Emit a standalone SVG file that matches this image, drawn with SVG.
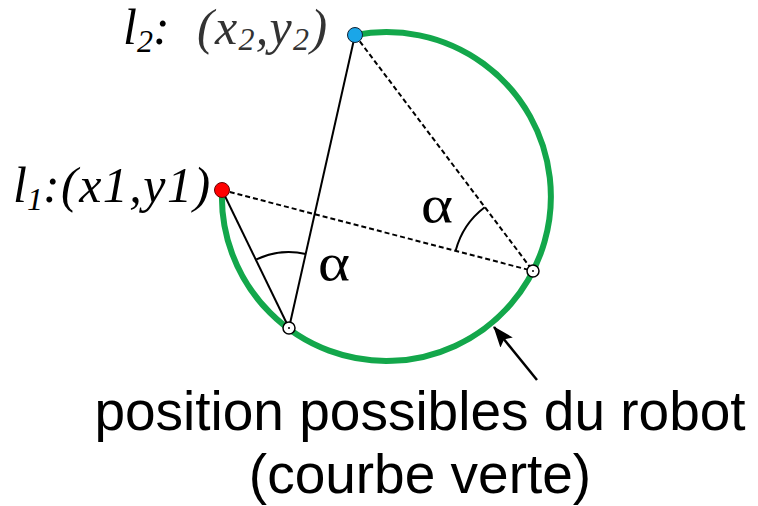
<svg xmlns="http://www.w3.org/2000/svg" width="758" height="506" viewBox="0 0 758 506">
<defs>
<style>
.lab{font-family:"Liberation Serif","Times New Roman",serif;font-style:italic;font-size:50px;fill:#000}
.sub{font-size:32px}
.alpha{font-family:"Liberation Serif","Times New Roman",serif;font-size:52px;fill:#000}
.cap{font-family:"Liberation Sans",Arial,sans-serif;font-size:55px;fill:#000;text-anchor:middle}
.solid{stroke:#000;stroke-width:2;fill:none}
.dash{stroke:#000;stroke-width:2;fill:none;stroke-dasharray:5 3}
.ang{stroke:#000;stroke-width:2;fill:none}
.pos{fill:#fff;stroke:#000;stroke-width:1.5}
</style>
<marker id="ah" markerWidth="21" markerHeight="16" refX="20" refY="8" orient="auto" markerUnits="userSpaceOnUse" viewBox="0 0 21 16">
<path d="M0,0 L21,8 L0,16 L4,8 Z" fill="#000"/>
</marker>
</defs>
<rect width="758" height="506" fill="#fff"/>
<g id="curve">
<path d="M355,35 A164.5,164.5 0 1 1 222,190" fill="none" stroke="#13a74b" stroke-width="6"/>
</g>
<g id="connectors">
<line class="solid" x1="355" y1="35" x2="289" y2="328"/>
<line class="solid" x1="222" y1="190" x2="289" y2="328"/>
<line class="dash" x1="222" y1="190" x2="533" y2="271"/>
<line class="dash" x1="355" y1="35" x2="533" y2="271"/>
<path class="ang" d="M256.4,259.4 A76,76 0 0 1 305.8,253.9"/>
<path class="ang" d="M455.7,250.5 A80,80 0 0 1 484.7,207.2"/>
<line x1="537" y1="380" x2="494" y2="327" stroke="#000" stroke-width="2.5" marker-end="url(#ah)"/>
</g>
<g id="l1">
<circle cx="222" cy="190" r="7.5" fill="#f00" stroke="#600" stroke-width="1"/>
<text class="lab" x="13" y="202">l<tspan class="sub" dy="8">1</tspan><tspan dy="-8">:</tspan><tspan x="61" letter-spacing="1.5">(x1,y1)</tspan></text>
</g>
<g id="l2">
<circle cx="355" cy="35" r="7.5" fill="#1aa6e8" stroke="#123" stroke-width="1"/>
<text class="lab" x="123" y="44">l<tspan class="sub" dy="8">2</tspan><tspan dy="-8">:</tspan><tspan x="197" fill="#333" letter-spacing="1.3">(x</tspan><tspan class="sub" dy="6" fill="#333" letter-spacing="1.3">2</tspan><tspan dy="-6" fill="#333" letter-spacing="1.3">,y</tspan><tspan class="sub" dy="6" fill="#333" letter-spacing="1.3">2</tspan><tspan dy="-6" fill="#333">)</tspan></text>
</g>
<g id="posA">
<circle class="pos" cx="289" cy="328" r="6"/>
<circle cx="289" cy="328" r="1" fill="#000"/>
</g>
<g id="posB">
<circle class="pos" cx="533" cy="271" r="6"/>
<circle cx="533" cy="271" r="1" fill="#000"/>
</g>
<g id="alphas">
<text class="alpha" x="318" y="280" textLength="32" lengthAdjust="spacingAndGlyphs">α</text>
<text class="alpha" x="421" y="222" textLength="32" lengthAdjust="spacingAndGlyphs">α</text>
</g>
<g id="caption">
<text class="cap" x="420" y="430">position possibles du robot</text>
<text class="cap" x="420" y="493">(courbe verte)</text>
</g>
</svg>
